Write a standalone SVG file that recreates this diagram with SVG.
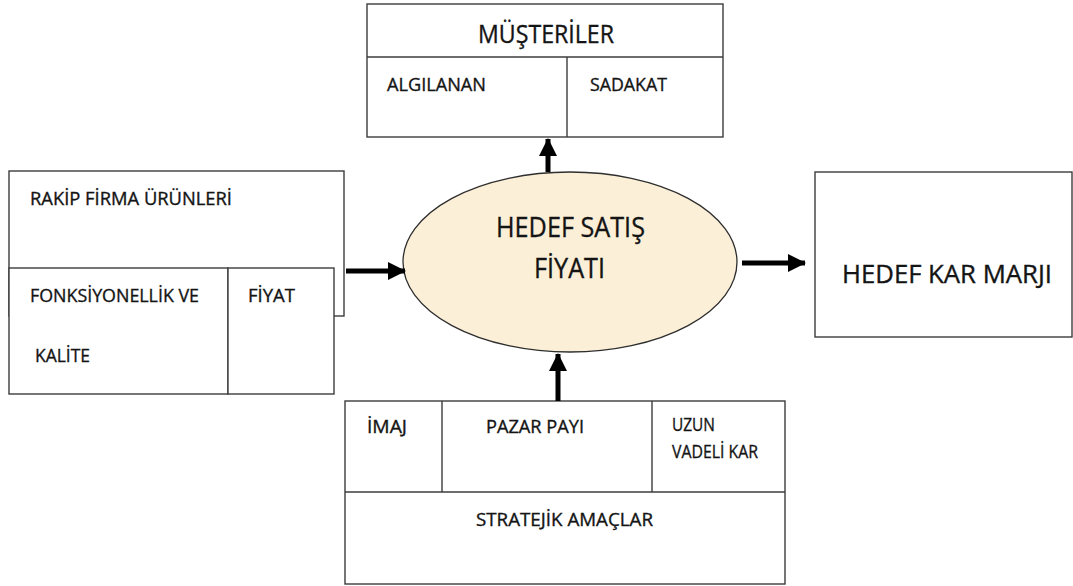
<svg xmlns="http://www.w3.org/2000/svg" width="1073" height="586" viewBox="0 0 1073 586">
  <style>
    .box { fill: #ffffff; stroke: #3c3c3c; stroke-width: 1.4; }
    .ell { fill: #fbefd8; stroke: #2e2e2e; stroke-width: 1.3; }
    .t { font-family: "Open Sans", Lato, "Liberation Sans", sans-serif; fill: #141414; stroke: #141414; stroke-width: 0.35; }
    .s { font-size: 19px; }
    .l { font-size: 26px; }
    .conn { stroke: #000000; stroke-width: 5; fill: none; }
  </style>
  <defs>
    <marker id="head" markerUnits="userSpaceOnUse" markerWidth="18" markerHeight="18" refX="17" refY="9" orient="auto">
      <path d="M0,0 L18,9 L0,18 Z" fill="#000000"/>
    </marker>
  </defs>

  <rect width="1073" height="586" fill="#ffffff"/>

  <!-- customers -->
  <g id="musteriler">
    <rect class="box" x="367" y="4" width="356" height="133"/>
    <line class="box" x1="367" y1="57" x2="723" y2="57"/>
    <line class="box" x1="567" y1="57" x2="567" y2="137"/>
    <text class="t l" x="478" y="43" textLength="136" lengthAdjust="spacingAndGlyphs">MÜŞTERİLER</text>
    <text class="t s" x="387" y="91" textLength="99" lengthAdjust="spacingAndGlyphs">ALGILANAN</text>
    <text class="t s" x="590" y="91" textLength="77" lengthAdjust="spacingAndGlyphs">SADAKAT</text>
  </g>

  <!-- competitor products -->
  <g id="rakip">
    <rect class="box" x="9" y="171" width="335" height="145"/>
    <rect class="box" x="9" y="268" width="219" height="126"/>
    <rect class="box" x="228" y="268" width="106" height="126"/>
    <text class="t s" x="30" y="205" textLength="202" lengthAdjust="spacingAndGlyphs">RAKİP FİRMA ÜRÜNLERİ</text>
    <text class="t s" x="30" y="302" textLength="169" lengthAdjust="spacingAndGlyphs">FONKSİYONELLİK VE</text>
    <text class="t s" x="35" y="362" textLength="55" lengthAdjust="spacingAndGlyphs">KALİTE</text>
    <text class="t s" x="248" y="302" textLength="47" lengthAdjust="spacingAndGlyphs">FİYAT</text>
  </g>

  <!-- target price -->
  <g id="hedef-satis">
    <ellipse class="ell" cx="570" cy="262" rx="167" ry="90"/>
    <text class="t" font-size="27" x="496" y="237" textLength="149" lengthAdjust="spacingAndGlyphs">HEDEF SATIŞ</text>
    <text class="t" font-size="27" x="534" y="278" textLength="71" lengthAdjust="spacingAndGlyphs">FİYATI</text>
  </g>

  <!-- target margin -->
  <g id="hedef-kar">
    <rect class="box" x="815" y="172" width="257" height="165"/>
    <text class="t" font-size="25" x="842" y="283" textLength="210" lengthAdjust="spacingAndGlyphs">HEDEF KAR MARJI</text>
  </g>

  <!-- strategic goals -->
  <g id="stratejik">
    <rect class="box" x="345" y="401" width="440" height="183"/>
    <line class="box" x1="345" y1="492" x2="785" y2="492"/>
    <line class="box" x1="442" y1="401" x2="442" y2="492"/>
    <line class="box" x1="652" y1="401" x2="652" y2="492"/>
    <text class="t s" x="367" y="433" textLength="40" lengthAdjust="spacingAndGlyphs">İMAJ</text>
    <text class="t s" x="486" y="433" textLength="98" lengthAdjust="spacingAndGlyphs">PAZAR PAYI</text>
    <text class="t s" x="672" y="431" textLength="43" lengthAdjust="spacingAndGlyphs">UZUN</text>
    <text class="t s" x="672" y="458" textLength="86" lengthAdjust="spacingAndGlyphs">VADELİ KAR</text>
    <text class="t s" x="476" y="526" textLength="177" lengthAdjust="spacingAndGlyphs">STRATEJİK AMAÇLAR</text>
  </g>

  <!-- connectors -->
  <g id="connectors">
    <line class="conn" x1="548" y1="172" x2="548" y2="139" marker-end="url(#head)"/>
    <line class="conn" x1="346" y1="271" x2="405" y2="271" marker-end="url(#head)"/>
    <line class="conn" x1="742" y1="263" x2="805" y2="263" marker-end="url(#head)"/>
    <line class="conn" x1="558" y1="401" x2="558" y2="354" marker-end="url(#head)"/>
  </g>
</svg>
